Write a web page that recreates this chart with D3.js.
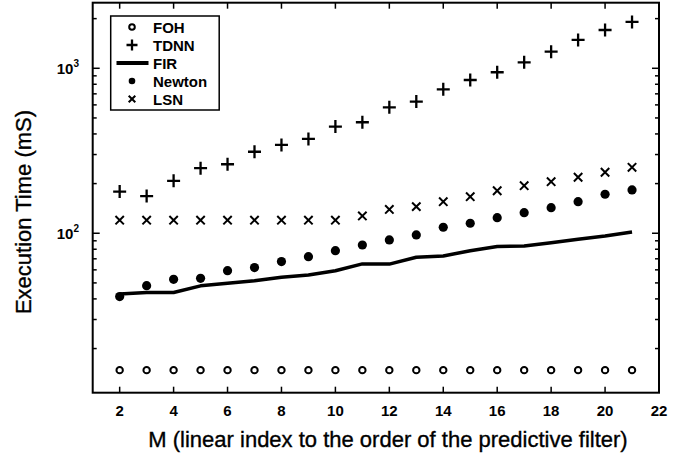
<!DOCTYPE html>
<html><head><meta charset="utf-8">
<script src="https://cdn.jsdelivr.net/npm/d3@7"></script>
<style>body{margin:0;background:#fff}svg{display:block}</style>
</head><body>
<svg id="c" width="693" height="463"></svg>
<script>
const M = [2,3,4,5,6,7,8,9,10,11,12,13,14,15,16,17,18,19,20,21];
const FOH = [14.8,14.8,14.8,14.8,14.8,14.8,14.8,14.8,14.8,14.8,14.8,14.8,14.8,14.8,14.8,14.8,14.8,14.8,14.8,14.8];
const TDNN = [179,168,208,248,262,312,343,373,443,471,580,628,746,849,946,1087,1261,1485,1707,1909];
const FIR = [42.9,43.7,43.7,48,49.8,51.6,54.1,55.9,59.3,65.2,65,71.5,72.8,78.4,83,83.7,87.7,92,96.3,101.8];
const NEWTON = [41.3,48.1,52.6,53.3,59.3,61.9,67.3,72.1,78.4,84.9,91.1,97.7,108.7,115,124.3,133.3,142.9,155.4,172.3,183];
const LSN = [120,120,120,120,120,120,120,120,120,127.3,139.4,145,155.4,166.6,181,194.3,205.5,218.5,234.3,251];
const xTicks = [2,4,6,8,10,12,14,16,18,20,22];
const yMajor = [100,1000];
const yMinor = [20,30,40,50,60,70,80,90,200,300,400,500,600,700,800,900,2000];
const legendLabels = ["FOH","TDNN","FIR","Newton","LSN"];
const xTitle = "M (linear index to the order of the predictive filter)";
const yTitle = "Execution Time (mS)";

const svg = d3.select("#c");
const L = 92.7, R = 659, T = 2.7, B = 392.7;
const x = d3.scaleLinear().domain([1,22]).range([L,R]);
const y = d3.scaleLog().domain([10.8,2498]).range([B,T]);
const FONT = "Liberation Sans, Arial, Helvetica, sans-serif";

const g = svg.append("g");
g.append("rect").attr("x",L).attr("y",T).attr("width",R-L).attr("height",B-T)
 .attr("fill","none").attr("stroke","#000").attr("stroke-width",2);

const tk = 6;
xTicks.forEach(v=>{
  g.append("line").attr("x1",x(v)).attr("x2",x(v)).attr("y1",B).attr("y2",B-tk).attr("stroke","#000").attr("stroke-width",1.5);
  g.append("line").attr("x1",x(v)).attr("x2",x(v)).attr("y1",T).attr("y2",T+tk).attr("stroke","#000").attr("stroke-width",1.5);
  g.append("text").attr("x",x(v)).attr("y",416).attr("text-anchor","middle")
   .attr("font-family",FONT).attr("font-weight","bold").attr("font-size",15).text(v);
});
yMajor.forEach(v=>{
  g.append("line").attr("x1",L).attr("x2",L+7).attr("y1",y(v)).attr("y2",y(v)).attr("stroke","#000").attr("stroke-width",1.5);
  g.append("line").attr("x1",R).attr("x2",R-7).attr("y1",y(v)).attr("y2",y(v)).attr("stroke","#000").attr("stroke-width",1.5);
  const t = g.append("text").attr("x",79).attr("y",y(v)+6).attr("text-anchor","end")
   .attr("font-family",FONT).attr("font-weight","bold").attr("font-size",15);
  t.append("tspan").text("10");
  t.append("tspan").attr("dy",-7).attr("font-size",10).text(Math.round(Math.log10(v)));
});
yMinor.forEach(v=>{
  g.append("line").attr("x1",L).attr("x2",L+4).attr("y1",y(v)).attr("y2",y(v)).attr("stroke","#000").attr("stroke-width",1.5);
  g.append("line").attr("x1",R).attr("x2",R-4).attr("y1",y(v)).attr("y2",y(v)).attr("stroke","#000").attr("stroke-width",1.5);
});

svg.append("text").attr("x",388).attr("y",447).attr("text-anchor","middle")
  .attr("font-family",FONT).attr("font-size",22).attr("stroke","#000").attr("stroke-width",0.35).text(xTitle);
svg.append("text").attr("transform","translate(31,212) rotate(-90)").attr("text-anchor","middle")
  .attr("font-family",FONT).attr("font-size",22).attr("stroke","#000").attr("stroke-width",0.35).text(yTitle);

function circ(sel, cx, cy, r){ sel.append("circle").attr("cx",cx).attr("cy",cy).attr("r",r).attr("fill","none").attr("stroke","#000").attr("stroke-width",2); }
function plus(sel, cx, cy, s){ sel.append("path").attr("d",`M${cx-s},${cy}H${cx+s}M${cx},${cy-s}V${cy+s}`).attr("stroke","#000").attr("stroke-width",2.3).attr("fill","none"); }
function cross(sel, cx, cy, s){ sel.append("path").attr("d",`M${cx-s},${cy-s}L${cx+s},${cy+s}M${cx-s},${cy+s}L${cx+s},${cy-s}`).attr("stroke","#000").attr("stroke-width",2).attr("fill","none"); }
function dot(sel, cx, cy, r){ sel.append("circle").attr("cx",cx).attr("cy",cy).attr("r",r).attr("fill","#000"); }

const d = g.append("g");
d.append("path").datum(M.map((m,i)=>[m,FIR[i]]))
 .attr("d", d3.line().x(p=>x(p[0])).y(p=>y(p[1])))
 .attr("fill","none").attr("stroke","#000").attr("stroke-width",3.5).attr("stroke-linejoin","round");
M.forEach((m,i)=>{
  circ(d, x(m), y(FOH[i]), 3.2);
  plus(d, x(m), y(TDNN[i]), 6.5);
  dot(d, x(m), y(NEWTON[i]), 4.6);
  cross(d, x(m), y(LSN[i]), 4.2);
});

const lg = svg.append("g");
lg.append("rect").attr("x",110.7).attr("y",16).attr("width",108.5).attr("height",94)
  .attr("fill","#fff").attr("stroke","#000").attr("stroke-width",1.5);
const ly = [27,45,63,81,99];
const sx = 132;
legendLabels.forEach((lab,i)=>{
  const yy = ly[i];
  if(i===0) circ(lg, sx, yy, 2.8);
  if(i===1) plus(lg, sx, yy, 5.5);
  if(i===2) lg.append("line").attr("x1",116.5).attr("x2",148.5).attr("y1",yy).attr("y2",yy).attr("stroke","#000").attr("stroke-width",4);
  if(i===3) dot(lg, sx, yy, 3.3);
  if(i===4) cross(lg, sx, yy, 3.3);
  lg.append("text").attr("x",153).attr("y",yy+5.5).attr("font-family",FONT)
    .attr("font-weight","bold").attr("font-size",15).text(lab);
});
</script>
</body></html>
